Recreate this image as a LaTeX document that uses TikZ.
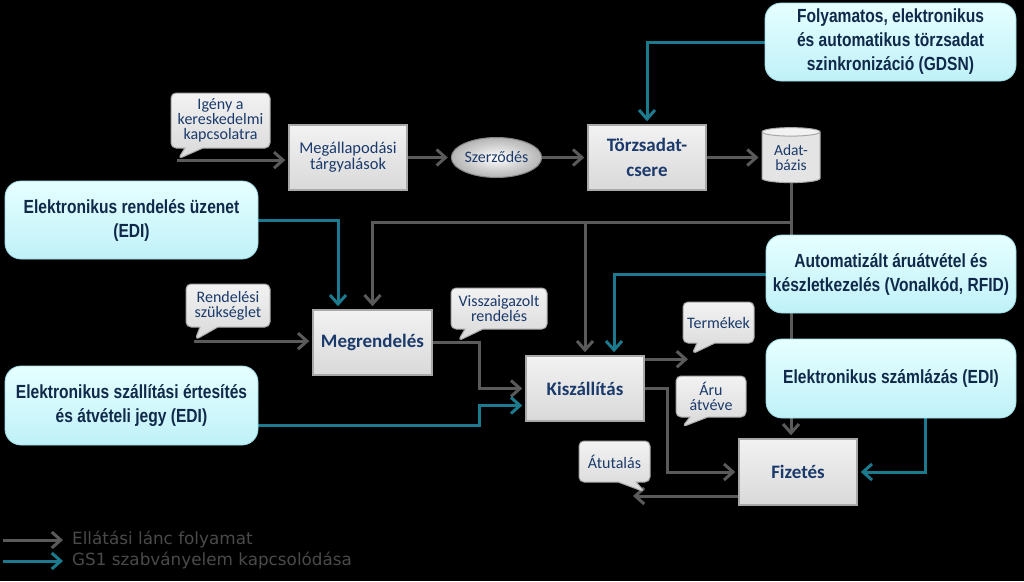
\documentclass[tikz,border=0pt]{standalone}
\usepackage{fontspec}
\setmainfont{Carlito}
\newfontfamily\nbfont[FakeStretch=0.82]{Liberation Sans}
\newfontfamily\legfont{DejaVu Sans}
\usetikzlibrary{arrows.meta,shapes.geometric,shapes.callouts}
\definecolor{flowc}{HTML}{5A5A5A}
\definecolor{gsc}{HTML}{1B7A8E}
\definecolor{boxtop}{HTML}{F2F2F2}
\definecolor{boxbot}{HTML}{D9D9D9}
\definecolor{boxedge}{HTML}{A8A8A8}
\definecolor{cyantop}{HTML}{E6FFFF}
\definecolor{cyanbot}{HTML}{BFF1F8}
\definecolor{cyanedge}{HTML}{9FDCE6}
\definecolor{navy}{HTML}{1B3A6B}
\definecolor{darknavy}{HTML}{10294A}
\definecolor{legc}{HTML}{4A4A4A}
\definecolor{ellout}{HTML}{B4B4B4}
\pgfdeclarelayer{bg}
\pgfsetlayers{bg,main}
\tikzset{
  graybox/.style={rectangle, draw=boxedge, line width=1.5pt, top color=boxtop, bottom color=boxbot,
    minimum width=118pt, minimum height=65pt, inner sep=2pt, align=center, text=navy,
    font=\fontsize{16.5}{16}\selectfont},
  boldbox/.style={graybox, font=\bfseries\fontsize{19}{25}\selectfont},
  cyanbox/.style={rectangle, rounded corners=16pt, top color=cyantop, bottom color=cyanbot,
    draw=cyanedge, line width=0.8pt, minimum width=251pt, minimum height=78pt, align=center,
    text=darknavy, font=\nbfont\bfseries\fontsize{19}{24}\selectfont},
  bubble/.style={rectangle callout, rounded corners=5pt, draw=boxedge, line width=1pt,
    top color=boxtop, bottom color=boxbot, align=center, text=navy, inner sep=1pt,
    callout pointer width=18pt, font=\fontsize{16}{15}\selectfont},
  flow/.style={draw=flowc, line width=3pt, shorten >=3pt, -{Straight Barb[length=9pt,width=16pt]}},
  gs1/.style={draw=gsc, line width=3pt, shorten >=3pt, -{Straight Barb[length=9pt,width=16pt]}},
  legtext/.style={anchor=west, text=legc, inner sep=0pt, font=\legfont\fontsize{16.8}{18}\selectfont}
}
\begin{document}
\begin{tikzpicture}[x=1pt,y=-1pt]
\begin{pgfonlayer}{bg}
\fill[black] (0,0) rectangle (1024,581);
\end{pgfonlayer}
\useasboundingbox (0,0) rectangle (1024,581);

% callouts
\node[bubble, minimum width=99pt, minimum height=55pt, callout absolute pointer={(178,159)}] (igeny) at (220.5,120.5) {Igény a\\kereskedelmi\\kapcsolatra};
\node[bubble, minimum width=84pt, minimum height=43pt, callout absolute pointer={(195,340)}] (rend) at (228,305.5) {Rendelési\\szükséglet};
\node[bubble, minimum width=96pt, minimum height=41pt, callout absolute pointer={(458,341)}] (vissza) at (499,308.5) {Visszaigazolt\\rendelés};
\node[bubble, minimum width=71pt, minimum height=41pt, callout absolute pointer={(692,354)}] (termek) at (718.5,322.5) {Termékek};
\node[bubble, minimum width=70pt, minimum height=41pt, callout absolute pointer={(682,427)}] (aru) at (711,396.5) {Áru\\átvéve};
\node[bubble, minimum width=71pt, minimum height=41pt, callout absolute pointer={(645,492)}] (atut) at (614.5,461.5) {Átutalás};

% process boxes
\node[graybox] (megall) at (348,157.5) {Megállapodási\\tárgyalások};
\node[ellipse, draw=boxedge!80!black, line width=1pt, inner color=white, outer color=ellout, minimum width=77pt, minimum height=40pt, inner sep=0pt, text=navy, font=\fontsize{16}{16}\selectfont] (szerz) at (496.5,157.5) {Szerződés};
\node[boldbox] (torzs) at (647,157.5) {Törzsadat-\\csere};
\node[cylinder, shape border rotate=90, aspect=0.25, draw=boxedge, line width=1pt, cylinder uses custom fill, cylinder body fill=boxbot!70!white, cylinder end fill=boxtop, minimum width=58pt, minimum height=55pt, inner sep=0pt, align=center, text=navy, font=\fontsize{15.5}{15}\selectfont] (adat) at (791,157.5) {Adat-\\bázis};
\node[boldbox, minimum width=119pt] (megr) at (372.5,342.5) {Megrendelés};
\node[boldbox] (kisz) at (585,388.5) {Kiszállítás};
\node[boldbox, minimum height=66pt] (fizetes) at (798,472) {Fizetés};

% GS1 boxes
\node[cyanbox] (gdsn) at (890.5,42) {Folyamatos, elektronikus\\és automatikus törzsadat\\szinkronizáció (GDSN)};
\node[cyanbox, minimum width=253pt] (edi1) at (131.5,220) {Elektronikus rendelés üzenet\\(EDI)};
\node[cyanbox, minimum width=253pt, minimum height=79pt] (edi2) at (131.5,405.5) {Elektronikus szállítási értesítés\\és átvételi jegy (EDI)};
\node[cyanbox, minimum width=250pt] (auto) at (891,274) {Automatizált áruátvétel és\\készletkezelés (Vonalkód, RFID)};
\node[cyanbox, minimum width=250pt, minimum height=79pt] (szamla) at (891,378.5) {Elektronikus számlázás (EDI)};

% legend
\node[legtext] (leg1) at (72,540) {Ellátási lánc folyamat};
\node[legtext] (leg2) at (72,561) {GS1 szabványelem kapcsolódása};

\begin{pgfonlayer}{bg}
\coordinate (j1) at (791,222);
\coordinate (mk) at (479,0);
\coordinate (atutend) at (630,496);
\coordinate (l1a) at (3,540);
\coordinate (l1b) at (66,540);
\coordinate (l2a) at (3,561);
\coordinate (l2b) at (66,561);
\draw[flow] (igeny.pointer) -- (igeny.pointer -| megall.west);
\draw[flow] (megall) -- (szerz);
\draw[flow] (szerz) -- (torzs);
\draw[flow] (torzs) -- (adat);
\draw[flow] (adat) -- (j1 |- fizetes.north);
\draw[flow] (j1) -| (megr.north);
\draw[flow] (j1 -| kisz.north) -- (kisz.north);
\draw[gs1] (gdsn.west) -| (torzs.north);
\draw[gs1] (edi1.east) -| ([xshift=-34.5pt]megr.north);
\draw[flow] (rend.pointer) -- (rend.pointer -| megr.west);
\draw[flow] (megr.east) -- (megr.east -| mk) |- (kisz.west);
\draw[gs1] ([yshift=-19.5pt]edi2.east) -| ([yshift=-17pt]kisz.west -| mk) -- ([yshift=-17pt]kisz.west);
\draw[gs1] (auto.west) -| ([xshift=29pt]kisz.north);
\draw[flow] ([yshift=-4pt]kisz.north east) -- ([yshift=-4pt]kisz.north east -| termek.pointer);
\draw[flow] (kisz.east) -- ++(23,0) |- (fizetes.west);
\draw[gs1] ([xshift=34pt]szamla.south) |- (fizetes.east);
\draw[flow] ([yshift=-24pt]fizetes.west) -- (atutend);
\draw[flow] (l1a) -- (l1b);
\draw[gs1] (l2a) -- (l2b);
\end{pgfonlayer}
\end{tikzpicture}
\end{document}
